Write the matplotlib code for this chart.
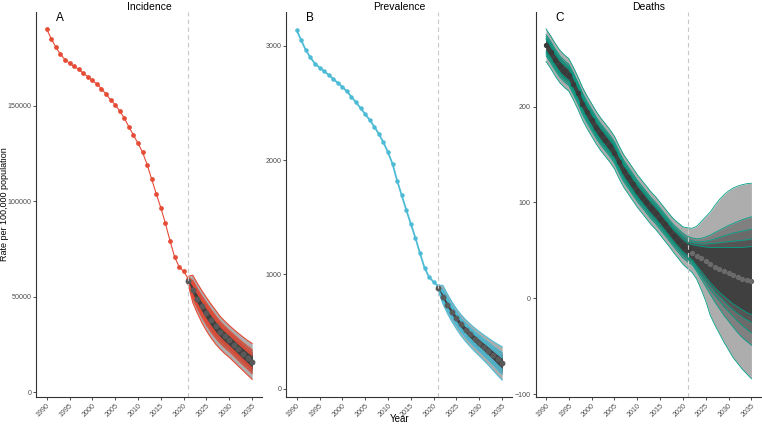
import numpy as np
import matplotlib.pyplot as plt

plt.rcParams['font.family'] = ['Liberation Sans', 'DejaVu Sans']

# years
hist_years = np.arange(1990, 2022)
proj_years = np.arange(2021, 2036)
all_years = np.arange(1990, 2036)

# ---- Incidence (A) ----
inc_obs = [190200, 185300, 180800, 177100, 174300, 172400, 170800, 169100, 167200, 165300,
           163400, 161400, 159000, 156200, 153200, 150600, 147400, 143600, 139100, 134700,
           130500, 125700, 119300, 111600, 104000, 96700, 88500, 79500, 71100, 65800,
           63400, 59500]
inc_mean = [58500, 53500, 49000, 45000, 41300, 37800, 34600, 31800, 29400, 27300, 25000, 22600, 20300, 18100, 16000]
inc_q975 = [60800, 61300, 57100, 53200, 49600, 46200, 43000, 39800, 37300, 35000, 32900, 30900, 29000, 27200, 25600]
inc_q90 = [60000, 58600, 54300, 50400, 46800, 43300, 40100, 37100, 34600, 32400, 30200, 28100, 26000, 24100, 22300]
inc_q85 = [59700, 57600, 53300, 49300, 45700, 42300, 39100, 36000, 33600, 31400, 29200, 27000, 24900, 22900, 21100]
inc_q80 = [59500, 56900, 52500, 48500, 44900, 41400, 38200, 35200, 32800, 30600, 28400, 26200, 24000, 22000, 20100]
inc_q75 = [59300, 56200, 51800, 47800, 44100, 40700, 37500, 34500, 32100, 29900, 27700, 25400, 23300, 21200, 19300]
inc_q25 = [57800, 51300, 46400, 42100, 38200, 34600, 31400, 28700, 26300, 24200, 21900, 19600, 17300, 15000, 12900]
inc_q20 = [57600, 50700, 45800, 41300, 37400, 33800, 30600, 27800, 25500, 23400, 21100, 18800, 16500, 14200, 12000]
inc_q15 = [57400, 50100, 45000, 40500, 36500, 32900, 29700, 26900, 24600, 22500, 20200, 17900, 15600, 13300, 11100]
inc_q10 = [57200, 49200, 44000, 39400, 35300, 31700, 28500, 25700, 23400, 21400, 19100, 16700, 14400, 12200, 9900]
inc_q025 = [56500, 47000, 41500, 36500, 32200, 28500, 25300, 22600, 20300, 18300, 16000, 13700, 11400, 9100, 6800]

# ---- Prevalence (B) ----
prev_obs = [3136, 3049, 2962, 2898, 2845, 2810, 2778, 2746, 2711, 2676,
            2642, 2601, 2554, 2505, 2455, 2403, 2351, 2293, 2229, 2156,
            2069, 1967, 1821, 1693, 1565, 1443, 1321, 1187, 1059, 977,
            934, 896]
prev_mean = [880, 805, 735, 672, 615, 563, 517, 476, 438, 403, 368, 333, 295, 258, 222]
prev_q975 = [905, 905, 830, 760, 700, 648, 604, 566, 531, 500, 470, 443, 415, 390, 367]
prev_q90 = [897, 871, 798, 730, 671, 619, 574, 535, 499, 467, 435, 406, 374, 345, 318]
prev_q85 = [893, 858, 785, 719, 660, 608, 563, 524, 487, 454, 422, 391, 359, 328, 299]
prev_q80 = [891, 848, 776, 710, 652, 600, 554, 515, 478, 445, 412, 380, 347, 315, 284]
prev_q75 = [889, 839, 767, 702, 644, 592, 547, 507, 470, 436, 403, 370, 336, 303, 271]
prev_q25 = [873, 785, 709, 643, 584, 530, 482, 440, 400, 364, 327, 290, 250, 210, 172]
prev_q20 = [871, 779, 703, 635, 575, 521, 473, 430, 390, 354, 316, 279, 238, 198, 159]
prev_q15 = [869, 773, 695, 627, 566, 511, 462, 419, 379, 342, 304, 266, 225, 184, 145]
prev_q10 = [867, 765, 685, 616, 554, 498, 449, 405, 365, 327, 289, 250, 207, 166, 126]
prev_q025 = [860, 745, 660, 587, 523, 465, 414, 369, 327, 288, 248, 207, 162, 118, 76]

# ---- Deaths (C) ----
death_mean = [264, 257, 249, 242, 237, 233, 224, 214, 203, 194,
              186, 178, 171, 165, 159, 152, 142, 133, 126, 119,
              112, 106, 100, 94, 89, 83, 77, 71, 65, 60,
              55, 51, 47.5, 44.5, 41.5, 38.5, 35.5, 33, 30.5, 28,
              26, 24, 22, 20.5, 19, 17.7]
# half widths of the fitted bands, 1990-2020
death_hw975 = [17.0] * 28 + [17.5, 18.5, 19.5]
death_hw90 = [11.2] * 28 + [11.6, 12.2, 12.9]
death_hw85 = [9.0] * 28 + [9.3, 9.8, 10.3]
death_hw80 = [7.3] * 28 + [7.5, 8.0, 8.4]
death_hw75 = [5.8] * 28 + [6.0, 6.3, 6.6]
# projected quantiles, 2021-2035
death_q975 = [73.5, 73, 75, 80, 85, 90, 97, 103, 108, 112, 115, 117, 118.5, 119.5, 120]
death_q90 = [64.5, 63, 62, 62.5, 64, 66, 68.5, 71, 73.5, 76, 78, 80, 82, 83.5, 85]
death_q85 = [62, 60, 59, 59, 59.5, 60.5, 62, 63.5, 65, 66.5, 68, 69, 70, 71, 72]
death_q80 = [59.5, 58, 57, 56.5, 56.5, 57, 57.5, 58, 58.5, 59, 59.5, 60, 60.5, 61, 62]
death_q75 = [57.5, 56, 55, 54, 53.5, 53, 53, 53, 53, 53, 53, 53, 53, 53.5, 54]
death_q25 = [44.5, 40, 34, 28, 22, 16, 11, 6, 2, -2, -6, -9, -12, -15, -17]
death_q20 = [42.5, 38.5, 32, 25, 19, 13, 7, 2, -3, -8, -12, -16, -19.5, -22.5, -25]
death_q15 = [40.5, 37, 30, 23, 16, 9, 3, -3, -9, -14, -19, -24, -28.5, -32.5, -36]
death_q10 = [38, 35, 28, 20, 12, 4, -4, -11, -18, -24, -30, -36, -41, -45, -49]
death_q025 = [31, 27, 20, 9, -3, -18, -28, -37, -46, -54, -62, -68, -74, -79, -84]

red = '#E64B35'
blue = '#4DBBD5'
teal = '#00A087'
fills = ['#ADADAD', '#808080', '#6B6B6B', '#555555', '#404040']


def fan(ax, x, lows, highs, col, lw=0.6):
    for lo, hi, fc in zip(lows, highs, fills):
        ax.fill_between(x, lo, hi, color=fc, lw=0, zorder=2)
    for lo, hi in zip(lows, highs):
        ax.plot(x, lo, color=col, lw=lw, zorder=3)
        ax.plot(x, hi, color=col, lw=lw, zorder=3)


def style(ax, title, letter, ylim, yticks):
    ax.set_xlim(1987.75, 2037.25)
    ax.set_ylim(*ylim)
    ax.set_yticks(yticks)
    ax.set_xticks(np.arange(1990, 2036, 5))
    ax.set_xticklabels([str(y) for y in range(1990, 2036, 5)], rotation=45,
                       ha='right', rotation_mode='anchor')
    for s in ['top', 'right']:
        ax.spines[s].set_visible(False)
    for s in ['left', 'bottom']:
        ax.spines[s].set_color('#333333')
        ax.spines[s].set_linewidth(0.8)
    ax.tick_params(length=2.2, width=0.6, color='#333333', labelsize=5.1,
                   labelcolor='#4D4D4D', pad=1.2)
    ax.set_title(title, fontsize=7.5, pad=1)
    ax.text(0.105, 0.985, letter, transform=ax.transAxes, ha='center',
            va='center', fontsize=8.5)
    ax.axvline(2021, color='#C8C8C8', ls=(0, (4, 3)), lw=0.8, zorder=5)


fig = plt.figure(figsize=(7.62, 4.26), dpi=100)
W, H = 762, 426
bottom = 29 / H
height = 385 / H
width = 226 / W

axA = fig.add_axes([36.4 / W, bottom, width, height])
axB = fig.add_axes([286.4 / W, bottom, width, height])
axC = fig.add_axes([535.7 / W, bottom, width, height])

# A
axA.plot(hist_years, inc_obs, '-o', color=red, lw=0.8, ms=2.4, zorder=3)
fan(axA, proj_years,
    [inc_q025, inc_q10, inc_q15, inc_q20, inc_q25],
    [inc_q975, inc_q90, inc_q85, inc_q80, inc_q75], red, lw=0.8)
axA.plot(proj_years, inc_mean, 'o', color='#5A5A5A', ms=3.2, zorder=4)
style(axA, 'Incidence', 'A', (-2450, 199200), [0, 50000, 100000, 150000])

# B
axB.plot(hist_years, prev_obs, '-o', color=blue, lw=1.3, ms=2.2, zorder=3)
fan(axB, proj_years,
    [prev_q025, prev_q10, prev_q15, prev_q20, prev_q25],
    [prev_q975, prev_q90, prev_q85, prev_q80, prev_q75], blue, lw=0.8)
axB.plot(proj_years, prev_mean, 'o', color='#5A5A5A', ms=3.2, zorder=4)
style(axB, 'Prevalence', 'B', (-72, 3296), [0, 1000, 2000, 3000])

# C
dm = np.array(death_mean)
nh = len(death_hw975)
lows, highs = [], []
for hw, qlo, qhi in [(death_hw975, death_q025, death_q975),
                     (death_hw90, death_q10, death_q90),
                     (death_hw85, death_q15, death_q85),
                     (death_hw80, death_q20, death_q80),
                     (death_hw75, death_q25, death_q75)]:
    lows.append(np.concatenate([dm[:nh] - np.array(hw), qlo]))
    highs.append(np.concatenate([dm[:nh] + np.array(hw), qhi]))
axC.plot(hist_years, dm[:len(hist_years)], '-o', color=teal, lw=0.8, ms=2.4, zorder=1)
fan(axC, all_years, lows, highs, teal, lw=0.6)
axC.plot(all_years[:nh + 1], dm[:nh + 1], 'o', color='#3A3A3A', ms=2.8, zorder=4)
axC.plot(all_years[nh + 1:], dm[nh + 1:], 'o', color='#6B6B6B', ms=2.8, zorder=4)
style(axC, 'Deaths', 'C', (-103, 298.6), [-100, 0, 100, 200])

fig.text(0, 1 - 204 / H, 'Rate per 100,000 population', rotation=90,
         ha='left', va='center', fontsize=6.5)
fig.text(399.5 / W, 1 - 419 / H, 'Year', ha='center', va='center', fontsize=7)

plt.savefig('out.png', dpi=100)
